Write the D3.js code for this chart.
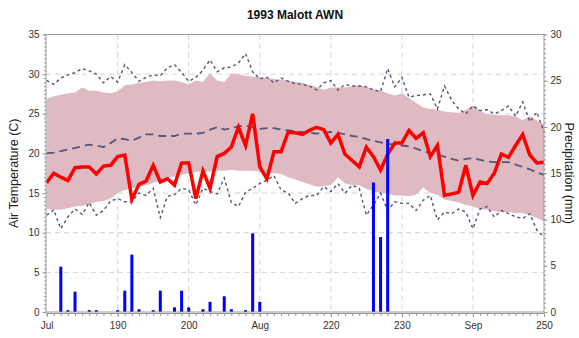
<!DOCTYPE html>
<html>
<head>
<meta charset="utf-8">
<script src="https://cdn.jsdelivr.net/npm/d3@7"></script>
<style>
  html, body { margin: 0; padding: 0; background: #fff; }
  svg { display: block; font-family: "Liberation Sans", Arial, sans-serif; }
</style>
</head>
<body>
<svg id="chart" width="579" height="338"></svg>
<script>
// Day of year for each daily record
const dayOfYear = [
  180,181,182,183,184,185,186,187,188,189,
  190,191,192,193,194,195,196,197,198,199,
  200,201,202,203,204,205,206,207,208,209,
  210,211,212,213,214,215,216,217,218,219,
  220,221,222,223,224,225,226,227,228,229,
  230,231,232,233,234,235,236,237,238,239,
  240,241,242,243,244,245,246,247,248,249,
  250
];

// Observed daily mean air temperature (C)
const dailyMean = [
  16.3,17.5,17.0,16.6,18.2,18.3,18.3,17.4,18.4,18.5,
  19.6,19.8,14.2,16.1,16.5,18.5,16.4,16.8,16.0,18.8,
  18.8,14.3,17.8,15.6,19.6,20.0,20.8,23.3,21.0,25.0,
  18.3,16.8,20.2,20.2,22.7,22.6,22.4,22.9,23.3,23.0,
  21.3,22.4,19.9,19.1,18.3,20.8,19.6,17.9,19.9,21.3,
  21.3,22.9,21.9,22.6,19.6,21.0,14.7,14.9,15.1,18.5,
  14.7,16.4,16.2,17.5,19.9,19.5,21.0,22.4,19.8,18.8,
  18.9
];

// Observed daily maximum (C)
const dailyMax = [
  29.2,28.7,29.5,29.9,30.2,30.7,30.4,30.0,28.9,29.7,
  29.0,31.2,30.2,29.1,29.6,29.9,29.8,30.8,31.2,30.2,
  29.1,29.6,30.5,31.8,30.3,30.8,30.9,31.4,32.6,30.3,
  29.4,29.6,28.9,29.5,29.1,28.8,28.7,28.5,28.0,28.9,
  29.2,28.0,28.7,28.5,28.5,28.4,28.0,27.8,30.7,28.4,
  29.6,27.1,27.3,27.4,27.5,25.6,28.5,26.7,25.6,25.0,
  26.0,25.4,25.5,25.0,25.4,26.0,24.7,26.5,24.0,25.2,
  22.7
];

// Observed daily minimum (C)
const dailyMin = [
  12.2,12.9,10.5,12.0,13.0,12.3,13.8,12.2,12.8,14.0,
  14.3,13.9,13.9,15.0,14.7,15.6,11.9,14.6,14.8,15.6,
  15.4,13.5,15.6,15.2,14.9,16.9,13.8,13.3,15.1,15.6,
  16.2,16.6,17.2,15.4,15.0,13.7,14.3,14.7,14.7,15.8,
  15.2,16.2,15.0,16.0,15.6,12.2,13.5,15.0,12.8,13.9,
  13.7,13.7,12.8,14.1,14.7,11.6,12.6,12.4,13.0,12.6,
  10.5,13.0,13.3,12.0,12.8,12.4,12.0,11.8,12.4,10.3,
   9.5
];

// Long-term normal mean temperature (C)
const normalMean = [
  20.0,20.1,20.3,20.5,20.7,20.9,21.1,21.0,20.8,21.3,
  21.9,21.8,21.6,22.0,22.4,22.4,22.2,22.2,22.2,22.5,
  22.5,22.5,22.6,23.0,23.3,23.0,23.2,23.4,23.5,23.3,
  23.1,23.2,23.2,23.0,22.9,22.8,22.7,22.6,22.5,22.6,
  22.7,22.6,22.4,22.2,22.1,21.8,21.6,21.4,21.2,21.1,
  21.0,20.9,20.6,20.3,20.0,19.8,19.6,19.3,19.1,19.3,
  19.4,19.2,19.0,18.9,18.9,18.9,18.6,18.3,18.0,17.6,
  17.3
];

// Normal range band: upper and lower edges (C)
const normalHigh = [
  26.9,27.2,27.4,27.6,27.7,28.3,27.9,27.9,27.7,27.6,
  27.8,28.6,28.7,28.9,29.0,29.2,29.1,29.2,29.2,29.0,
  28.7,29.2,29.0,30.1,29.2,29.0,30.1,30.0,29.8,29.7,
  29.6,29.5,29.4,29.3,29.2,29.0,28.9,28.6,28.4,28.0,
  28.3,28.3,28.3,28.5,28.6,28.4,28.1,27.9,27.6,27.3,
  27.6,27.0,26.4,25.8,25.6,25.5,25.3,25.2,25.1,25.5,
  26.0,25.4,24.9,24.9,24.8,24.8,24.7,24.2,24.7,24.2,
  23.7
];
const normalLow = [
  13.0,12.9,12.9,13.1,13.3,13.4,13.6,13.9,14.0,14.3,
  15.0,15.4,15.6,15.7,16.0,16.3,16.5,16.9,17.1,17.3,
  17.5,17.7,17.7,17.7,17.8,17.8,17.9,17.8,17.8,17.8,
  17.7,17.5,17.5,17.4,17.0,16.7,16.4,16.1,15.8,15.9,
  16.0,17.0,16.2,16.0,16.0,15.5,15.2,15.0,14.9,14.7,
  14.7,14.6,14.8,15.7,15.0,14.8,14.2,14.0,13.8,13.5,
  13.3,13.0,12.9,12.7,12.6,12.6,12.5,12.5,12.2,11.9,
  11.4
];

// Daily precipitation (mm)
const precip = [
  0,0,4.9,0.2,2.2,0,0.2,0.2,0,0,
  0.2,2.3,6.2,0.3,0,0.2,2.3,0,0.5,2.3,
  0.5,0,0.3,1.1,0,1.7,0.3,0,0.2,8.5,
  1.1,0,0,0,0,0,0,0,0,0,
  0,0,0,0,0,0,14.0,8.1,18.7,0,
  0,0,0,0,0,0,0,0,0,0,
  0,0,0,0,0,0,0,0,0,0,
  0
];

const tempTicks = [0, 5, 10, 15, 20, 25, 30, 35];
const precipTicks = [0, 5, 10, 15, 20, 25, 30];
const dayTicks = [180, 190, 200, 210, 220, 230, 240, 250];
const dayTickLabels = ["Jul", "190", "200", "Aug", "220", "230", "Sep", "250"];

const chartTitle = "1993 Malott AWN";
const leftTitle = "Air Temperature (C)";
const rightTitle = "Precipitation (mm)";

// ---- layout ----
const svg = d3.select("#chart");
const plot = { left: 46, right: 544, top: 34.5, bottom: 312 };

const x = d3.scaleLinear().domain([180, 250]).range([plot.left + 0.6, plot.right]);
const yT = d3.scaleLinear().domain([0, 35]).range([plot.bottom, plot.top]);
const yP = d3.scaleLinear().domain([0, 30]).range([plot.bottom, plot.top]);

const axisColor = "#9a9a9a";
const gridColor = "#d4d4d4";
const lineBlue = "#55557e";

// gridlines
const grid = svg.append("g");
grid.selectAll("line.h").data(tempTicks.filter(t => t > 0)).join("line")
  .attr("x1", plot.left).attr("x2", plot.right)
  .attr("y1", d => yT(d)).attr("y2", d => yT(d))
  .attr("stroke", gridColor).attr("stroke-dasharray", "5,4");
grid.selectAll("line.v").data(dayTicks.filter(d => d > 180 && d < 250)).join("line")
  .attr("x1", d => x(d)).attr("x2", d => x(d))
  .attr("y1", plot.top).attr("y2", plot.bottom)
  .attr("stroke", gridColor).attr("stroke-dasharray", "5,4");

// normal range band
const band = d3.area()
  .x((d, i) => x(dayOfYear[i]))
  .y0((d, i) => yT(normalLow[i]))
  .y1((d, i) => yT(normalHigh[i]));
svg.append("path").datum(normalHigh).attr("d", band)
  .attr("fill", "#dfbac2");

const line = d3.line().x((d, i) => x(dayOfYear[i])).y(d => yT(d));

// daily max / min (short dashes) and normal mean (long dashes)
svg.append("path").datum(dailyMax).attr("d", line)
  .attr("fill", "none").attr("stroke", lineBlue).attr("stroke-width", 1.4)
  .attr("stroke-dasharray", "3,3");
svg.append("path").datum(dailyMin).attr("d", line)
  .attr("fill", "none").attr("stroke", lineBlue).attr("stroke-width", 1.4)
  .attr("stroke-dasharray", "3,3");
svg.append("path").datum(normalMean).attr("d", line)
  .attr("fill", "none").attr("stroke", lineBlue).attr("stroke-width", 1.8)
  .attr("stroke-dasharray", "8,5");

// observed daily mean
svg.append("path").datum(dailyMean).attr("d", line)
  .attr("fill", "none").attr("stroke", "#ff0000").attr("stroke-width", 3.5)
  .attr("stroke-linejoin", "miter");

// precipitation bars
const barW = 3;
svg.append("g").selectAll("rect")
  .data(precip.map((v, i) => ({ day: dayOfYear[i], v })).filter(d => d.v > 0))
  .join("rect")
  .attr("x", d => x(d.day) - barW / 2)
  .attr("width", barW)
  .attr("y", d => yP(d.v))
  .attr("height", d => yP(0) - yP(d.v))
  .attr("fill", "#0000ff");

// frame
svg.append("rect")
  .attr("x", plot.left).attr("y", plot.top)
  .attr("width", plot.right - plot.left).attr("height", plot.bottom - plot.top)
  .attr("fill", "none").attr("stroke", axisColor);

function styleAxis(g) {
  g.selectAll(".domain").attr("stroke", axisColor);
  g.selectAll(".tick line").attr("stroke", axisColor);
  g.selectAll(".tick text").attr("fill", "#333").attr("font-size", 10)
    .attr("font-family", "'Liberation Sans', Arial, sans-serif");
}

// x axis
const xg = svg.append("g").attr("transform", `translate(0,${plot.bottom + 1.5})`);
xg.call(d3.axisBottom(x).tickValues(dayOfYear).tickSize(2.5).tickFormat(""));
xg.append("g").call(d3.axisBottom(x).tickValues(dayTicks)
  .tickFormat((d, i) => dayTickLabels[i]).tickSize(3.5).tickPadding(5));
xg.selectAll(".domain").remove();
xg.append("line").attr("x1", plot.left).attr("x2", plot.right)
  .attr("stroke", axisColor);
styleAxis(xg);

// left temperature axis
const minorTemp = d3.range(0, 35.01, 0.5);
const lg = svg.append("g").attr("transform", `translate(${plot.left},0)`);
lg.call(d3.axisLeft(yT).tickValues(minorTemp).tickSize(2).tickFormat(""));
lg.append("g").call(d3.axisLeft(yT).tickValues(tempTicks).tickSize(3.5).tickPadding(3));
lg.selectAll(".domain").remove();
styleAxis(lg);

// right precipitation axis
const minorPrecip = d3.range(0, 30.01, 0.5);
const rg = svg.append("g").attr("transform", `translate(${plot.right},0)`);
rg.call(d3.axisRight(yP).tickValues(minorPrecip).tickSize(2).tickFormat(""));
rg.append("g").call(d3.axisRight(yP).tickValues(precipTicks).tickSize(3.5).tickPadding(3));
rg.selectAll(".domain").remove();
styleAxis(rg);

// titles
svg.append("text")
  .attr("x", (plot.left + plot.right) / 2).attr("y", 19)
  .attr("text-anchor", "middle").attr("font-weight", "bold")
  .attr("font-size", 12).attr("fill", "#111")
  .text(chartTitle);

svg.append("text")
  .attr("transform", `translate(18,${(plot.top + plot.bottom) / 2}) rotate(-90)`)
  .attr("text-anchor", "middle").attr("font-size", 12.5).attr("fill", "#222")
  .text(leftTitle);

svg.append("text")
  .attr("transform", `translate(565,${(plot.top + plot.bottom) / 2}) rotate(90)`)
  .attr("text-anchor", "middle").attr("font-size", 12.5).attr("fill", "#222")
  .text(rightTitle);
</script>
</body>
</html>
